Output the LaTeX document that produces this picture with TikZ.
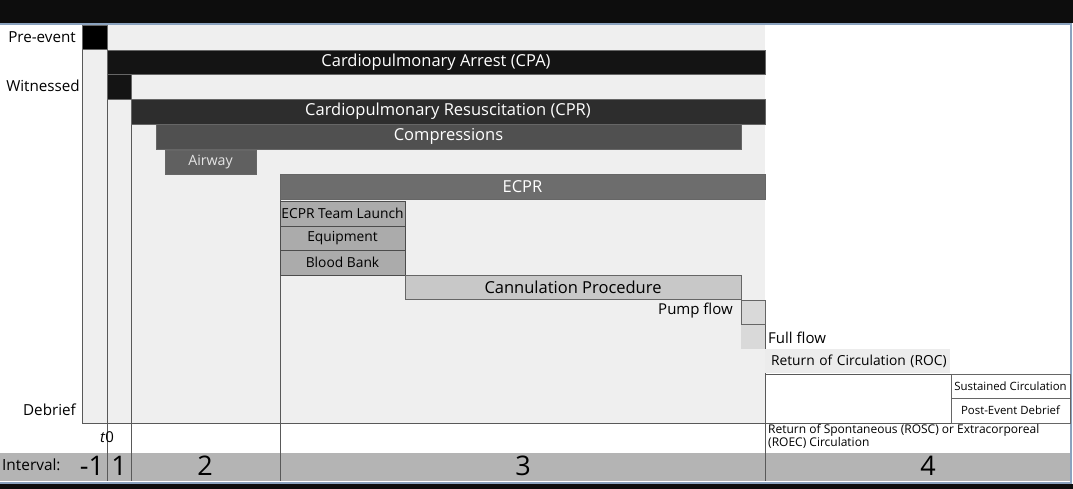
\documentclass[tikz,border=0pt]{standalone}
\usepackage{fontspec}
\setmainfont{Open Sans}
\definecolor{framecol}{HTML}{8AA2BE}
\definecolor{areacol}{HTML}{EFEFEF}
\definecolor{cpacol}{HTML}{141414}
\definecolor{cprcol}{HTML}{2D2D2D}
\definecolor{compcol}{HTML}{505050}
\definecolor{airwaycol}{HTML}{606060}
\definecolor{ecprcol}{HTML}{6D6D6D}
\definecolor{teamcol}{HTML}{ABABAB}
\definecolor{cannucol}{HTML}{C8C8C8}
\definecolor{pumpcol}{HTML}{D9D9D9}
\definecolor{roccol}{HTML}{ECECEC}
\definecolor{intcol}{HTML}{B4B4B4}

\begin{document}
\begin{tikzpicture}[x=1pt,y=-1pt,
  bar/.style={rectangle,anchor=north west,inner sep=0pt,outer sep=0pt,draw=black!60,line width=0.8pt,font=\fontsize{16.5}{18}\selectfont},
  subbox/.style={bar,fill=teamcol,draw=black!70,font=\fontsize{13.8}{15}\selectfont},
  sidelbl/.style={anchor=east,inner sep=0pt,font=\fontsize{15.2}{17}\selectfont},
  smalllbl/.style={inner sep=0pt,font=\fontsize{15}{17}\selectfont},
  tinylbl/.style={inner sep=0pt,font=\fontsize{12}{13.5}\selectfont},
  intlbl/.style={inner sep=0pt,font=\fontsize{27}{29}\selectfont},
  gridline/.style={draw=black!65,line width=0.9pt}]
\useasboundingbox (0,0) rectangle (1073,489);
% frame and bands
\fill[black!95] (0,0) rectangle (1073,23);
\fill[black!95] (0,484) rectangle (1073,489);
\fill[white] (0,23) rectangle (1071,484);
\fill[areacol] (82,25) rectangle (765,423);
\fill[intcol] (0,453) rectangle (1070,481);
\draw[framecol,line width=2pt] (0,24) -- (1071,24) -- (1071,483) -- (0,483);
% grid lines
\draw[gridline] (82,25) -- (82,423) -- (1070,423);
\draw[gridline] (107,50) -- (107,481);
\draw[gridline] (131,99) -- (131,481);
\draw[gridline] (280,174) -- (280,481);
\draw[gridline] (765,300) -- (765,481);
\draw[gridline] (741,300) -- (741,349);
\draw[gridline] (765,374) -- (1070,374);
% side labels
\node[sidelbl] (pre) at (76,37) {Pre-event};
\node[sidelbl] (wit) at (80,86) {Witnessed};
\node[sidelbl] (deb) at (76,410) {Debrief};
% bars
\node[bar,fill=black,minimum width=25,minimum height=24] (preb) at (82,25) {};
\node[bar,fill=cpacol,text=white,minimum width=658,minimum height=24] (cpa) at (107,50) {Cardiopulmonary Arrest (CPA)};
\node[bar,fill=cpacol,minimum width=24,minimum height=25] (witb) at (107,74) {};
\node[bar,fill=cprcol,text=white,minimum width=634,minimum height=25] (cpr) at (131,99) {Cardiopulmonary Resuscitation (CPR)};
\node[bar,fill=compcol,text=white,minimum width=585,minimum height=25] (comp) at (156,124) {Compressions};
\node[bar,fill=airwaycol,text=white!90!black,minimum width=91,minimum height=24,font=\fontsize{14.2}{16}\selectfont] (air) at (165,150) {Airway};
\node[bar,fill=ecprcol,text=white,minimum width=485,minimum height=25] (ecpr) at (280,174) {ECPR};
\node[subbox,minimum width=125,minimum height=25] (team) at (280,201) {ECPR Team Launch};
\node[subbox,minimum width=125,minimum height=24] (equip) at (280,226) {Equipment};
\node[subbox,minimum width=125,minimum height=25] (blood) at (280,250) {Blood Bank};
\node[bar,fill=cannucol,minimum width=336,minimum height=24] (cannu) at (405,275) {Cannulation Procedure};
\node[bar,fill=pumpcol,minimum width=24,minimum height=24] (pumpb) at (741,300) {};
\node[smalllbl,anchor=east] (pump) at (733,311) {Pump flow};
\node[bar,fill=pumpcol,draw=none,minimum width=24,minimum height=24] (fullb) at (741,325) {};
\node[smalllbl,anchor=west] (full) at (768,338) {Full flow};
\node[bar,fill=roccol,draw=none,minimum width=185,minimum height=24,text width=181,align=left,font=\fontsize{13.8}{15}\selectfont] (roc) at (765,349) {\hspace*{4pt}Return of Circulation (ROC)};
\node[bar,fill=white,minimum width=119,minimum height=24,font=\fontsize{11.4}{13}\selectfont] (sust) at (951,374) {Sustained Circulation};
\node[bar,fill=white,minimum width=119,minimum height=25,font=\fontsize{11.4}{13}\selectfont] (post) at (951,398) {Post-Event Debrief};
\node[tinylbl,anchor=north west,align=left] (rosc) at (768,424) {Return of Spontaneous (ROSC) or Extracorporeal\\(ROEC) Circulation};
% interval row
\node[inner sep=0pt,font=\fontsize{15}{17}\selectfont] (t0) at (107,437) {\textit{t}0};
\node[inner sep=0pt,anchor=west,font=\fontsize{15.4}{17}\selectfont] (intv) at (2,465) {Interval:};
\node[intlbl] (im1) at (92,466) {-1};
\node[intlbl] (i1) at (119,466) {1};
\node[intlbl] (i2) at (205,466) {2};
\node[intlbl] (i3) at (523,466) {3};
\node[intlbl] (i4) at (928,466) {4};
\end{tikzpicture}
\end{document}
